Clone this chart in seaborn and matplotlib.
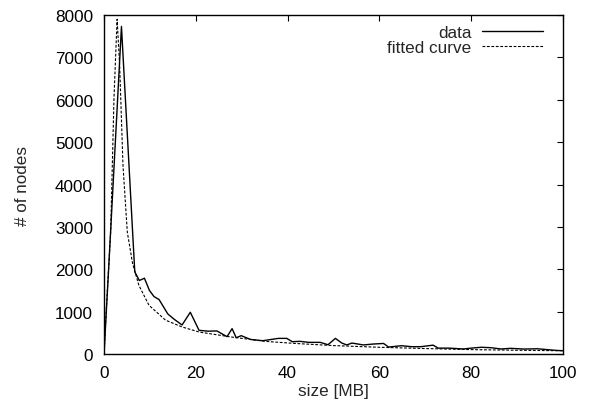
import pandas as pd
import seaborn as sns
import matplotlib.pyplot as plt

# measured histogram (size in MB vs number of nodes)
data_size = [0, 1.0, 3.8, 6.7, 7.7, 8.8, 9.9, 10.9, 12.0, 13.9, 15.2, 17.0, 18.8, 20.7,
             22.7, 24.6, 26.8, 27.9, 28.8, 29.9, 31.9, 34.6, 38.0, 39.8, 41.0, 42.7,
             44.6, 47.1, 48.8, 50.4, 51.8, 52.9, 54.0, 56.5, 58.7, 60.9, 62.0, 64.8,
             67.0, 69.0, 71.7, 72.8, 75.2, 78.3, 80.0, 82.2, 84.3, 86.5, 88.6, 91.5,
             94.4, 96.5, 98.7, 100]
data_nodes = [0, 2000, 7730, 1940, 1735, 1790, 1500, 1356, 1285, 946, 828, 686, 986, 560,
              540, 545, 410, 600, 385, 434, 345, 315, 370, 370, 292, 300,
              276, 276, 220, 370, 260, 215, 260, 215, 237, 250, 165, 197,
              174, 174, 210, 140, 140, 120, 140, 160, 150, 120, 135, 118,
              125, 105, 85, 80]

# fitted curve
fit_size = [0, 0.5, 1.45, 2.17, 2.85, 3.4, 4.13, 5.07, 6.2, 7.6, 9.8, 13.4, 17.0,
            20.7, 27.9, 35.1, 41.7, 50, 60, 70, 80, 90, 100]
fit_nodes = [0, 1065, 2880, 6035, 7900, 6824, 4457, 2880, 2150, 1620, 1150, 800, 640,
             520, 400, 300, 250, 200, 160, 130, 105, 90, 78]

x_ticks = [0, 20, 40, 60, 80, 100]
y_ticks = [0, 1000, 2000, 3000, 4000, 5000, 6000, 7000, 8000]

fs = 12.3  # gnuplot-ish text size

sns.set_style("white")
plt.rcParams['font.family'] = ['Liberation Sans', 'DejaVu Sans']
plt.rcParams['font.size'] = fs

df_data = pd.DataFrame({'size': data_size, 'nodes': data_nodes})
df_fit = pd.DataFrame({'size': fit_size, 'nodes': fit_nodes})

fig = plt.figure(figsize=(5.9, 4.1), dpi=100)
ax = fig.add_axes([0.1763, 0.134, 0.778, 0.827])

sns.lineplot(data=df_data, x='size', y='nodes', ax=ax, color='black', linewidth=1.0,
             label='data')
sns.lineplot(data=df_fit, x='size', y='nodes', ax=ax, color='black', linewidth=0.8,
             linestyle=(0, (2.5, 1.5)), label='fitted curve')

ax.set_xlim(0, 100)
ax.set_ylim(0, 8000)
ax.set_xticks(x_ticks)
ax.set_yticks(y_ticks)
ax.tick_params(direction='in', length=4.5, width=0.8, top=True, right=True,
               labelsize=fs, colors='black', pad=8)
for s in ax.spines.values():
    s.set_color('black')
    s.set_linewidth(1.0)

ax.set_xlabel('size [MB]', fontsize=fs, labelpad=2)
ax.set_ylabel('# of nodes', fontsize=fs, labelpad=18)

leg = ax.legend(loc='upper right', frameon=False, markerfirst=False, handlelength=3.6,
                handletextpad=0.6, labelspacing=0.0, fontsize=fs,
                bbox_to_anchor=(0.99, 1.015))

fig.savefig('out.png', dpi=100)
